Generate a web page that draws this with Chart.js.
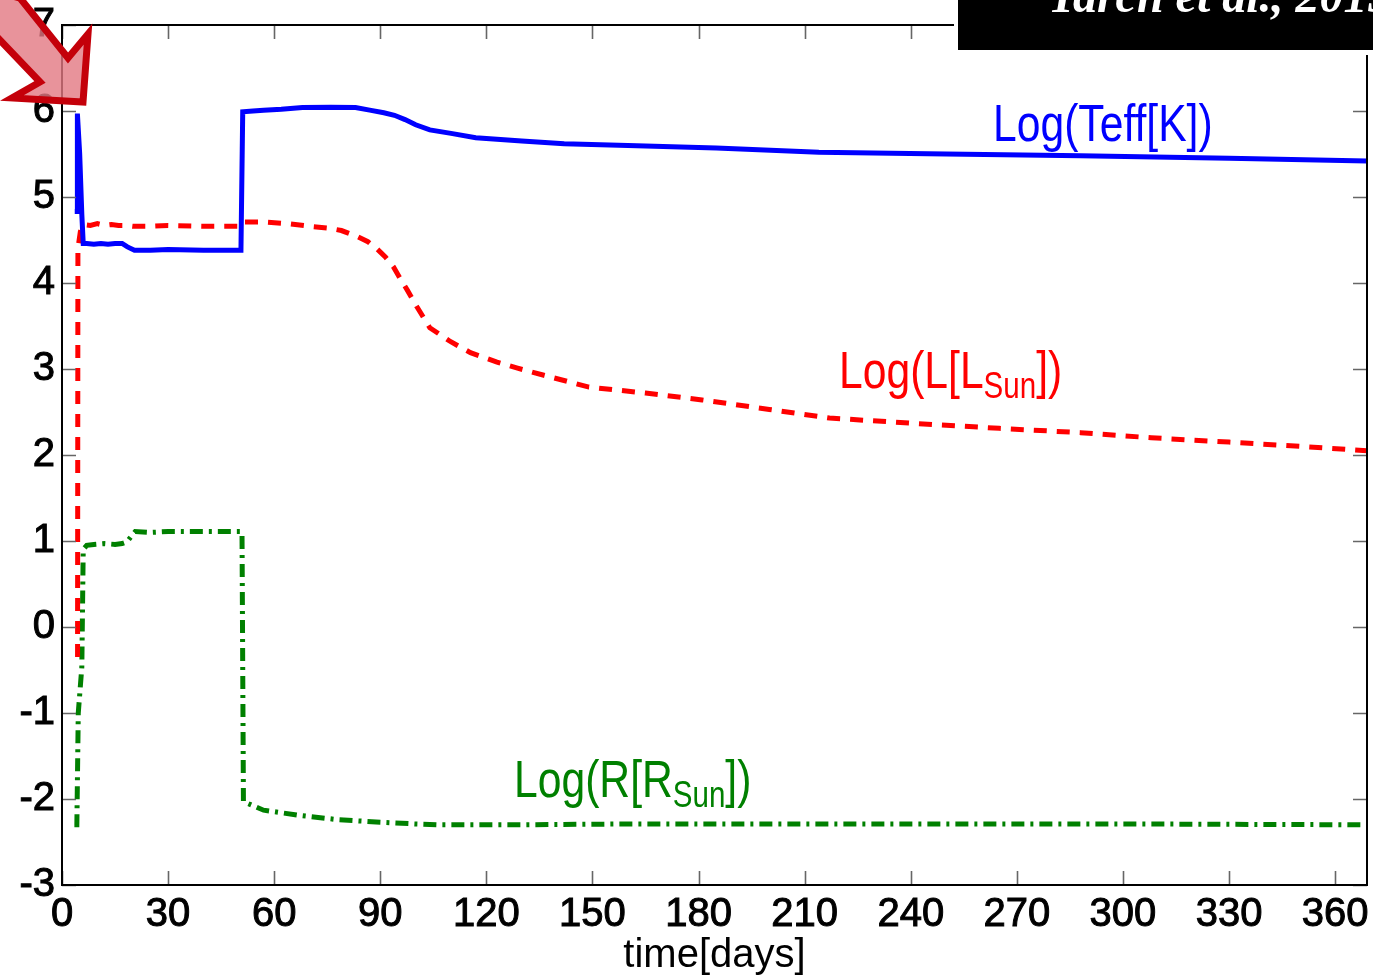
<!DOCTYPE html>
<html>
<head>
<meta charset="utf-8">
<script src="https://cdn.jsdelivr.net/npm/chart.js@4.4.0/dist/chart.umd.min.js"></script>
<style>
html,body{margin:0;padding:0;background:#fff;}
#wrap{width:1373px;height:976px;position:relative;}
</style>
</head>
<body>
<div id="wrap"><canvas id="c"></canvas></div>
<script>
// ---- data ----
const xTickValues = [0,30,60,90,120,150,180,210,240,270,300,330,360];
const yTickValues = [-3,-2,-1,0,1,2,3,4,5,6,7];
const xAxisTitle = 'time[days]';

const teffDays = [3.6,4.3,4.35,5.0,5.6,6.0,7,9,11,13,15,17,18.5,20.5,25,30,40,50.6,51.1,54,57,62,68,76,83,87,91,94,97,100,104,110,117,130,142,160,185,214,250,288,330,369];
const teffLog  = [4.83,4.83,5.97,5.5,4.8,4.46,4.46,4.45,4.46,4.45,4.46,4.46,4.42,4.38,4.38,4.39,4.38,4.38,5.99,6.0,6.01,6.02,6.04,6.045,6.04,6.01,5.98,5.95,5.9,5.84,5.78,5.74,5.69,5.65,5.62,5.6,5.57,5.52,5.5,5.48,5.45,5.42];

const lumDays = [4.4,4.5,5.2,6,8,10,12,14,16,18,20,25,30,40,50.4,51.0,51.3,57,64,70,75,79,83.5,86.5,89,91.5,93.7,95.5,97.6,100.4,104,109.8,115.5,123,128.8,136,149,165,181,200,217,240,265,288,308,330,350,369];
const lumLog  = [-0.35,4.4,4.6,4.68,4.67,4.69,4.67,4.68,4.67,4.67,4.66,4.66,4.67,4.66,4.66,4.7,4.71,4.71,4.69,4.66,4.64,4.61,4.54,4.48,4.40,4.30,4.19,4.06,3.92,3.72,3.48,3.32,3.19,3.08,3.01,2.93,2.79,2.72,2.64,2.53,2.43,2.37,2.31,2.26,2.2,2.15,2.1,2.05];

const radDays = [3.5,4.2,4.6,5.6,6.0,7,9,12,15,17,18.4,19.5,20.7,25,30,40,50.4,50.9,51.3,57,67,78,90,100,107,130,160,200,250,300,369];
const radLog  = [-2.3,-2.3,-1.0,-0.47,0.9,0.95,0.96,0.97,0.96,0.97,0.99,1.05,1.11,1.1,1.11,1.11,1.11,1.1,-2.03,-2.13,-2.19,-2.24,-2.27,-2.29,-2.3,-2.3,-2.29,-2.29,-2.29,-2.29,-2.3];

const seriesLabels = ['Log(Teff[K])','Log(L[LSun])','Log(R[RSun])'];

function pts(xs, ys){ return xs.map((x,i)=>({x:x, y:ys[i]})); }

const FONT = '"Liberation Sans", Arial, sans-serif';

const decorPlugin = {
  id: 'decor',
  afterDraw(chart){
    const ctx = chart.ctx;
    const a = chart.chartArea;
    const xs = chart.scales.x, ys = chart.scales.y;
    ctx.save();
    // inward ticks
    ctx.strokeStyle = '#666';
    ctx.lineWidth = 1.6;
    const tl = 14;
    ctx.beginPath();
    xTickValues.forEach(v=>{
      const px = Math.round(xs.getPixelForValue(v))+0.5;
      ctx.moveTo(px, a.bottom); ctx.lineTo(px, a.bottom - tl);
      ctx.moveTo(px, a.top); ctx.lineTo(px, a.top + tl);
    });
    yTickValues.forEach(v=>{
      const py = Math.round(ys.getPixelForValue(v))+0.5;
      ctx.moveTo(a.left, py); ctx.lineTo(a.left + tl, py);
      ctx.moveTo(a.right, py); ctx.lineTo(a.right - tl, py);
    });
    ctx.stroke();
    // frame
    ctx.strokeStyle = '#000';
    ctx.lineWidth = 2;
    ctx.strokeRect(a.left, a.top, a.right - a.left, a.bottom - a.top);

    // series labels (condensed)
    function cond(text, x, y, size, color){
      ctx.save();
      ctx.font = size + 'px ' + FONT;
      ctx.fillStyle = color;
      ctx.textBaseline = 'alphabetic';
      ctx.textAlign = 'left';
      ctx.translate(x, y);
      ctx.scale(0.82, 1);
      ctx.fillText(text, 0, 0);
      const w = ctx.measureText(text).width * 0.82;
      ctx.restore();
      return w;
    }
    function subLabel(pre, sub, post, x, y, color){
      let cx = x;
      cx += cond(pre, cx, y, 52, color);
      cx += cond(sub, cx, y + 10, 36, color);
      cond(post, cx, y, 52, color);
    }
    cond('Log(Teff[K])', 993, 141, 52, '#0000ff');
    subLabel('Log(L[L', 'Sun', '])', 839, 388, '#ff0000');
    subLabel('Log(R[R', 'Sun', '])', 514, 797, '#008000');

    // black box top right
    ctx.fillStyle = '#fff';
    ctx.fillRect(954, 0, 419, 55);
    ctx.fillStyle = '#000';
    ctx.fillRect(958, 0, 415, 50);
    ctx.fillStyle = '#fff';
    ctx.font = 'italic bold 48px "Liberation Serif", serif';
    ctx.textBaseline = 'alphabetic';
    ctx.fillText('Tarch et al., 2015', 1048, 12);

    // red arrow
    ctx.beginPath();
    ctx.moveTo(-10, -10);
    ctx.lineTo(20, -2);
    ctx.lineTo(68, 58);
    ctx.lineTo(88, 34);
    ctx.lineTo(83, 102);
    ctx.lineTo(12, 98);
    ctx.lineTo(40, 82);
    ctx.lineTo(-4, 36);
    ctx.closePath();
    ctx.fillStyle = 'rgba(226,120,130,0.8)';
    ctx.fill();
    ctx.lineWidth = 7;
    ctx.lineJoin = 'miter';
    ctx.strokeStyle = '#c4000a';
    ctx.stroke();
    ctx.restore();
  }
};

new Chart(document.getElementById('c'), {
  type: 'line',
  data: {
    datasets: [
      { label: seriesLabels[0], data: pts(teffDays, teffLog), borderColor: '#0000ff', borderWidth: 5, pointRadius: 0, tension: 0, fill: false },
      { label: seriesLabels[1], data: pts(lumDays, lumLog), borderColor: '#ff0000', borderWidth: 5, borderDash: [13,10], pointRadius: 0, tension: 0, fill: false },
      { label: seriesLabels[2], data: pts(radDays, radLog), borderColor: '#008000', borderWidth: 5, borderDash: [13,6,3,6], pointRadius: 0, tension: 0, fill: false }
    ]
  },
  options: {
    responsive: true,
    maintainAspectRatio: false,
    animation: false,
    events: [],
    layout: { padding: { top: 25, right: 6, left: 0, bottom: 0 } },
    plugins: { legend: { display: false }, tooltip: { enabled: false }, title: { display: false } },
    scales: {
      x: {
        type: 'linear', min: 0, max: 369,
        afterBuildTicks(s){ s.ticks = xTickValues.map(v=>({value:v})); },
        afterFit(s){ s.height = 91; s.paddingLeft = 0; s.paddingRight = 0; },
        grid: { display: false, drawTicks: false },
        border: { display: false },
        ticks: { color: '#000', font: { family: FONT, size: 40 }, textStrokeColor: '#000', textStrokeWidth: 1, padding: 6, maxRotation: 0, autoSkip: false },
        title: { display: true, text: xAxisTitle, color: '#000', font: { family: FONT, size: 40 }, padding: { top: 0, bottom: -4 } }
      },
      y: {
        type: 'linear', min: -3, max: 7,
        afterBuildTicks(s){ s.ticks = yTickValues.map(v=>({value:v})); },
        afterFit(s){ s.width = 62; s.paddingTop = 0; s.paddingBottom = 0; },
        grid: { display: false, drawTicks: false },
        border: { display: false },
        ticks: { color: '#000', font: { family: FONT, size: 40 }, textStrokeColor: '#000', textStrokeWidth: 1, padding: 7, autoSkip: false }
      }
    }
  },
  plugins: [decorPlugin]
});
</script>
</body>
</html>
